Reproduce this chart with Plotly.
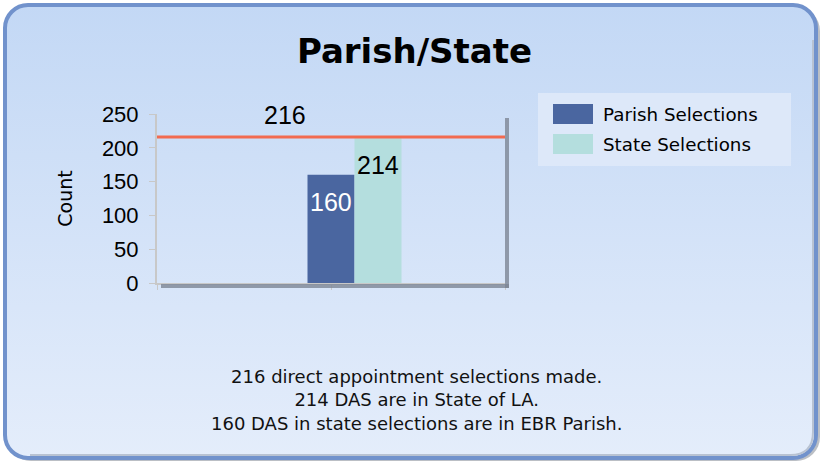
import base64
import plotly.graph_objects as go

# ---- data ----
series_names = ["Parish Selections", "State Selections"]
series_values = [160, 214]
series_colors = ["#4a66a0", "#b4dede"]
total_selections = 216
y_ticks = [0, 50, 100, 150, 200, 250]
title_text = "Parish/State"
y_title = "Count"
footnote_lines = [
    "216 direct appointment selections made.",
    "214 DAS are in State of LA.",
    "160 DAS in state selections are in EBR Parish.",
]

W, H = 822, 463
PL, PR, PT, PB = 157, 505, 114, 283   # plot area in px
pw, ph = PR - PL, PB - PT

def px_x(px):
    return (px - PL) / pw

def px_y(py):
    return (PB - py) / ph

# background panel as an SVG image
svg = f'''<svg xmlns="http://www.w3.org/2000/svg" width="{W}" height="{H}" viewBox="0 0 {W} {H}">
<defs><linearGradient id="g" x1="0" y1="0" x2="0" y2="1">
<stop offset="0" stop-color="#c3d8f5"/><stop offset="1" stop-color="#e4edfb"/></linearGradient></defs>
<rect x="7" y="7" width="813" height="454" rx="24" fill="#9ea4ad" opacity="0.7"/>
<rect x="5" y="5" width="811" height="453" rx="23" fill="url(#g)" stroke="#7192cc" stroke-width="4"/>
<path d="M 30 455 L 790 455 Q 813 455 813 432 L 813 40" fill="none" stroke="#b8c2d2" stroke-width="2"/>
</svg>'''
img_src = "data:image/svg+xml;base64," + base64.b64encode(svg.encode()).decode()

bar_w = 47 / pw
fig = go.Figure()
offsets = [-bar_w / 2, bar_w / 2]
for name, val, col, off in zip(series_names, series_values, series_colors, offsets):
    fig.add_trace(go.Bar(
        x=[0], y=[val], name=name, width=bar_w, offset=off,
        marker=dict(color=col, line=dict(width=0)),
        legendgroup=name, hoverinfo="y",
    ))

annotations = []
label_colors = ["white", "black"]
for val, off, lc in zip(series_values, offsets, label_colors):
    annotations.append(dict(
        x=off + bar_w / 2, y=val, xref="x", yref="y", text=str(val),
        showarrow=False, yshift=-27, xanchor="center",
        font=dict(family="Liberation Sans, Arial", size=25, color=lc),
    ))
annotations.append(dict(
    x=px_x(285), y=total_selections, xref="paper", yref="y", text=str(total_selections),
    showarrow=False, yshift=22, xanchor="center",
    font=dict(family="Liberation Sans, Arial", size=25, color="black"),
))
annotations.append(dict(
    x=px_x(416), y=px_y(399.5), xref="paper", yref="paper", xanchor="center", yanchor="middle",
    text="<br>".join(footnote_lines), showarrow=False, align="center",
    font=dict(family="DejaVu Sans", size=18, color="#111111"),
))

# legend box and swatches (drawn under the legend's own entries)
leg_x0, leg_x1, leg_y0, leg_y1 = 538, 791, 93, 166
swatch_rows = [(104, 124), (134, 154)]
shapes = [
    dict(type="line", xref="paper", yref="y", x0=0, x1=1,
         y0=total_selections, y1=total_selections,
         line=dict(color="#f26a50", width=3), layer="above"),
    # plot area drop shadow
    dict(type="rect", xref="paper", yref="paper", x0=1, x1=px_x(509),
         y0=px_y(288), y1=px_y(118), fillcolor="#7d8695", line=dict(width=0), opacity=0.8),
    dict(type="rect", xref="paper", yref="paper", x0=px_x(161), x1=px_x(509),
         y0=px_y(288), y1=px_y(284), fillcolor="#7d8695", line=dict(width=0), opacity=0.8),
    dict(type="rect", xref="paper", yref="paper", x0=px_x(leg_x0), x1=px_x(leg_x1),
         y0=px_y(leg_y1), y1=px_y(leg_y0), fillcolor="#dde8f9", line=dict(width=0)),
]
for (r0, r1), col in zip(swatch_rows, series_colors):
    shapes.append(dict(type="rect", xref="paper", yref="paper", x0=px_x(553), x1=px_x(593),
                       y0=px_y(r1), y1=px_y(r0), fillcolor=col, line=dict(width=0)))

fig.update_layout(
    width=W, height=H,
    margin=dict(l=PL, r=W - PR, t=PT, b=H - PB, autoexpand=False),
    paper_bgcolor="white", plot_bgcolor="#e5edfa",
    barmode="overlay",
    title=dict(text=f"<b>{title_text}</b>", x=414.5 / W, xanchor="center",
               y=1 - 51 / H, yanchor="middle",
               font=dict(family="DejaVu Sans", size=34, color="black")),
    xaxis=dict(range=[-0.5, 0.5], tickvals=[-0.5, 0, 0.5], showticklabels=False,
               ticks="outside", ticklen=5, tickcolor="#c8c8c8", showgrid=False,
               zeroline=False, showline=True, linecolor="#c8c8c8", linewidth=2,
               fixedrange=True),
    yaxis=dict(range=[0, 250], tickvals=y_ticks, ticks="outside", ticklen=6,
               tickcolor="#c8c8c8", showgrid=False, zeroline=False, showline=True,
               linecolor="#c8c8c8", linewidth=2, ticklabelstandoff=6,
               tickfont=dict(family="Liberation Sans, Arial", size=22, color="black"),
               title=dict(text=y_title, standoff=24,
                          font=dict(family="DejaVu Sans", size=19, color="black")),
               fixedrange=True),
    legend=dict(x=px_x(leg_x0), y=px_y(leg_y0 + 2), xanchor="left", yanchor="top",
                bgcolor="rgba(0,0,0,0)", borderwidth=0, tracegroupgap=4,
                itemwidth=55,
                font=dict(family="DejaVu Sans", size=18.3, color="black")),
    annotations=annotations,
    shapes=shapes,
    images=[dict(source=img_src, xref="paper", yref="paper",
                 x=px_x(0), y=px_y(0), sizex=W / pw, sizey=H / ph,
                 xanchor="left", yanchor="top", sizing="stretch", layer="below")],
    showlegend=True,
)

fig.write_html("out.html", config={"displayModeBar": False},
               post_script="document.body.style.margin='0';document.body.style.overflow='hidden';")
